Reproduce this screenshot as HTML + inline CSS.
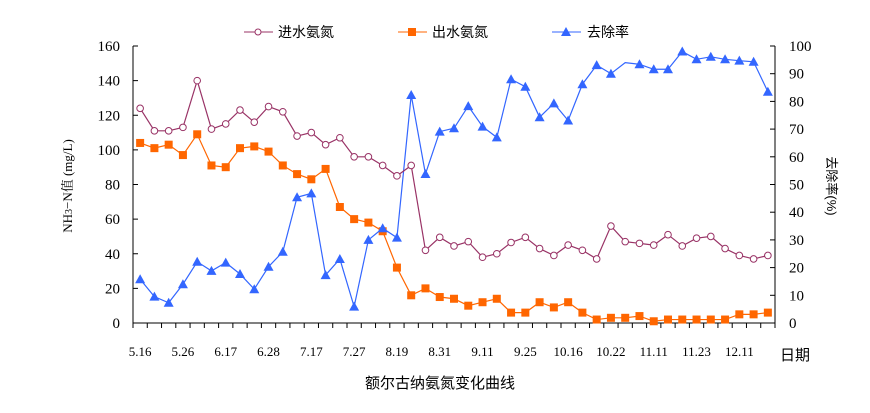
<!DOCTYPE html>
<html><head><meta charset="utf-8"><style>
html,body{margin:0;padding:0;background:#fff;}
svg{display:block;}
text{font-family:"Liberation Serif","Noto Serif CJK SC","Noto Sans CJK SC",serif;font-size:15px;fill:#000;}
.cj{font-family:"Liberation Sans","Noto Sans CJK SC",sans-serif;}
</style></head><body>
<svg id="s" width="870" height="413" xmlns="http://www.w3.org/2000/svg">
<g id="g"></g>
</svg>
<script>
const L=133,R=775,T=46,B=323,N=45,W=(R-L)/N;
const inflow=[124,111,111,113,140,112,115,123,116,125,122,108,110,103,107,96,96,91,85,91,42,49.5,44.5,47,38,40,46.5,49.5,43,39,45,42,37,56,47,46,45,51,44.5,49,50,43,39,37,39];
const out=[104,101,103,97,109,91,90,101,102,99,91,86,83,89,67,60,58,53,32,16,20,15,14,10,12,14,6,6,12,9,12,6,2,3,3,4,1,2,2,2,2,2,5,5,6];
const rate=[15.8,9.5,7.3,14,22.1,18.8,21.8,17.7,12.2,20.3,25.7,45.4,46.8,17.3,23.1,5.9,30,34.2,30.8,82.3,53.8,69.1,70.3,78.3,70.9,67,88,85.3,74.3,79.3,73.1,86.2,93.1,90,94,93.4,91.6,91.6,98,95.2,96.1,95.2,94.7,94.3,83.5];
const X=i=>L+(i+0.5)*W, YL=v=>B-v/160*(B-T), YR=v=>B-v/100*(B-T);
let s='';
s+=`<path d="M${L},${T}V${B}H${R}V${T}" fill="none" stroke="#000" stroke-width="1"/>`;
for(let v=0;v<=160;v+=20){const y=YL(v);s+=`<line x1="${L}" x2="${L+5}" y1="${y}" y2="${y}" stroke="#000"/><text x="${L-13}" y="${y+5}" text-anchor="end">${v}</text>`;}
for(let v=0;v<=100;v+=10){const y=YR(v);s+=`<line x1="${R-5}" x2="${R}" y1="${y}" y2="${y}" stroke="#000"/><text x="${R+14}" y="${y+5}">${v}</text>`;}
for(let i=0;i<=N;i++){const x=L+i*W;s+=`<line x1="${x}" x2="${x}" y1="${B}" y2="${B+5}" stroke="#000"/>`;}
const labs=["5.16","5.26","6.17","6.28","7.17","7.27","8.19","8.31","9.11","9.25","10.16","10.22","11.11","11.23","12.11"];
labs.forEach((t,k)=>{s+=`<text x="${X(k*3)}" y="356" text-anchor="middle" style="font-size:13px">${t}</text>`;});
const pl=(a,f,c)=>`<polyline fill="none" stroke="${c}" stroke-width="1.2" points="${a.map((v,i)=>X(i)+','+f(v)).join(' ')}"/>`;
s+=pl(rate,YR,'#3366ff');s+=pl(out,YL,'#ff6600');s+=pl(inflow,YL,'#993366');
inflow.forEach((v,i)=>{s+=`<circle cx="${X(i)}" cy="${YL(v)}" r="3.3" fill="#fff" stroke="#993366" stroke-width="1"/>`;});
out.forEach((v,i)=>{s+=`<rect x="${X(i)-4}" y="${YL(v)-4}" width="8" height="8" fill="#ff6600"/>`;});
rate.forEach((v,i)=>{if(i==34)return;const x=X(i),y=YR(v);s+=`<polygon points="${x},${y-5} ${x-5},${y+4} ${x+5},${y+4}" fill="#3366ff"/>`;});
s+=`<line x1="244" x2="273" y1="32" y2="32" stroke="#993366"/><circle cx="258" cy="32" r="3" fill="#fff" stroke="#993366"/><text class="cj" x="278" y="37" style="font-size:14px">进水氨氮</text>`;
s+=`<line x1="398" x2="427" y1="32" y2="32" stroke="#ff6600"/><rect x="408" y="28" width="8" height="8" fill="#ff6600"/><text class="cj" x="432" y="37" style="font-size:14px">出水氨氮</text>`;
s+=`<line x1="552" x2="581" y1="32" y2="32" stroke="#3366ff"/><polygon points="566,27 561,36 571,36" fill="#3366ff"/><text class="cj" x="587" y="37" style="font-size:14px">去除率</text>`;
s+=`<text transform="translate(72,186) rotate(-90)" text-anchor="middle" style="font-size:13px">NH<tspan style="font-size:10px">3</tspan>−N值 (mg/L)</text>`;
s+=`<text class="cj" transform="translate(827,186) rotate(90)" text-anchor="middle" style="font-size:13px">去除率(%)</text>`;
s+=`<text class="cj" x="795" y="360" text-anchor="middle" style="font-size:15px">日期</text>`;
s+=`<text class="cj" x="440" y="388" text-anchor="middle" style="font-size:15px">额尔古纳氨氮变化曲线</text>`;
document.getElementById('g').innerHTML=s;
</script>
</body></html>
